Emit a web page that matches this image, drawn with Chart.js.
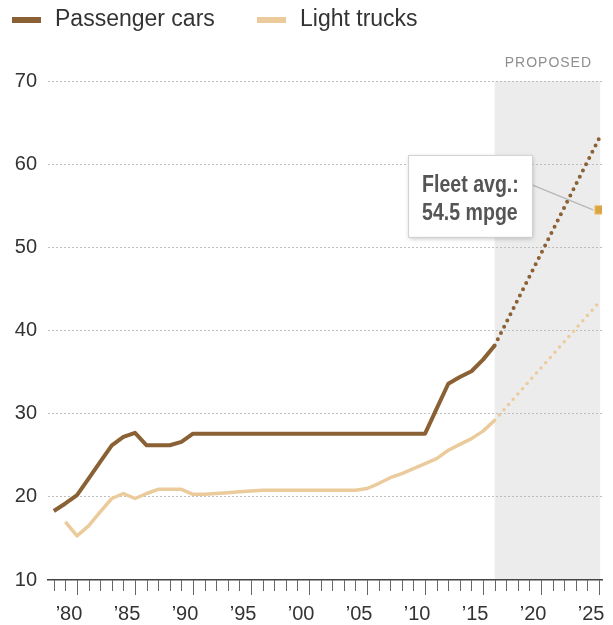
<!DOCTYPE html>
<html>
<head>
<meta charset="utf-8">
<script src="https://cdn.jsdelivr.net/npm/chart.js@4.4.1/dist/chart.umd.min.js"></script>
<style>
  html, body { margin: 0; padding: 0; background: #fff; }
  #wrap { width: 613px; height: 625px; }
</style>
</head>
<body>
<div id="wrap"><canvas id="chart" width="613" height="625"></canvas></div>
<script>
// fuel economy standards, mpg
const years = [1978, 1979, 1980, 1981, 1982, 1983, 1984, 1985, 1986, 1987, 1988, 1989, 1990,
  1991, 1992, 1993, 1994, 1995, 1996, 1997, 1998, 1999, 2000, 2001, 2002, 2003, 2004, 2005,
  2006, 2007, 2008, 2009, 2010, 2011, 2012, 2013, 2014, 2015, 2016];

const passengerCars = [18.3, 19.2, 20.2, 22.2, 24.2, 26.2, 27.2, 27.7, 26.2, 26.2, 26.2, 26.6, 27.6,
  27.6, 27.6, 27.6, 27.6, 27.6, 27.6, 27.6, 27.6, 27.6, 27.6, 27.6, 27.6, 27.6, 27.6, 27.6,
  27.6, 27.6, 27.6, 27.6, 27.6, 30.6, 33.6, 34.4, 35.1, 36.5, 38.2];

const lightTrucks = [null, 17.0, 15.3, 16.5, 18.2, 19.8, 20.4, 19.8, 20.4, 20.9, 20.9, 20.9, 20.3,
  20.3, 20.4, 20.5, 20.6, 20.7, 20.8, 20.8, 20.8, 20.8, 20.8, 20.8, 20.8, 20.8, 20.8, 21.0,
  21.6, 22.3, 22.8, 23.4, 24.0, 24.6, 25.6, 26.3, 27.0, 27.9, 29.2];

// proposed standards (dotted)
const proposedYears = [2016, 2025];
const carsProposed = [38.2, 63.1];
const trucksProposed = [29.2, 43.4];

const fleetAvgYear = 2025;
const fleetAvg = 54.5;

const yTicks = [10, 20, 30, 40, 50, 60, 70];
const seriesNames = ['Passenger cars', 'Light trucks'];

const CARS = '#8a6134';
const TRUCKS = '#ebcb9c';
const FLEET = '#d9a443';
const TEXT = '#333333';
const SANS = '"Liberation Sans", Arial, sans-serif';

const toPoints = (xs, ys) => xs.map((x, i) => ({ x: x, y: ys[i] }));

// shaded "proposed" area + header, drawn before the grid
const proposedShade = {
  id: 'proposedShade',
  beforeDraw(chart) {
    const { ctx, chartArea: a, scales: { x } } = chart;
    const x0 = x.getPixelForValue(proposedYears[0]);
    const x1 = x.getPixelForValue(fleetAvgYear) + 1;
    ctx.save();
    ctx.fillStyle = '#ececec';
    ctx.fillRect(x0, a.top, x1 - x0, a.bottom - a.top);
    ctx.fillStyle = '#8f8f8f';
    ctx.font = '14px ' + SANS;
    ctx.textAlign = 'center';
    ctx.textBaseline = 'alphabetic';
    if ('letterSpacing' in ctx) ctx.letterSpacing = '1px';
    ctx.fillText('PROPOSED', (x0 + x1) / 2 + 1, a.top - 14);
    ctx.restore();
  }
};

// minor/major tick marks under the x axis
const yearTicks = {
  id: 'yearTicks',
  afterDraw(chart) {
    const { ctx, chartArea: a, scales: { x } } = chart;
    ctx.save();
    ctx.strokeStyle = '#666';
    ctx.lineWidth = 1;
    x.ticks.forEach(t => {
      const px = Math.round(x.getPixelForValue(t.value)) + 0.5;
      const len = t.value % 5 === 0 ? 15 : 11;
      ctx.beginPath();
      ctx.moveTo(px, a.bottom);
      ctx.lineTo(px, a.bottom + len);
      ctx.stroke();
    });
    ctx.restore();
  }
};

// legend, callout box
const extras = {
  id: 'extras',
  afterDatasetsDraw(chart) {
    const { ctx, scales: { x, y } } = chart;
    const mx = x.getPixelForValue(fleetAvgYear);
    const my = y.getPixelForValue(fleetAvg);
    const bw = 124, bh = 82;
    const bx = mx - 191, by = my - 55;

    ctx.save();
    ctx.strokeStyle = '#b8b8b8';
    ctx.lineWidth = 1.5;
    ctx.beginPath();
    ctx.moveTo(bx + bw, by + 30);
    ctx.lineTo(mx - 6, my);
    ctx.stroke();

    ctx.shadowColor = 'rgba(0,0,0,0.25)';
    ctx.shadowBlur = 5;
    ctx.shadowOffsetX = 1;
    ctx.shadowOffsetY = 2;
    ctx.fillStyle = '#fff';
    ctx.fillRect(bx, by, bw, bh);
    ctx.shadowColor = 'transparent';
    ctx.strokeStyle = '#d0d0d0';
    ctx.lineWidth = 1;
    ctx.strokeRect(bx + 0.5, by + 0.5, bw, bh);

    // condensed bold text
    ctx.fillStyle = '#555';
    ctx.font = 'bold 23px ' + SANS;
    ctx.textAlign = 'left';
    ctx.textBaseline = 'alphabetic';
    ctx.translate(bx + 14, by);
    ctx.scale(0.85, 1);
    ctx.fillText('Fleet avg.:', 0, 37);
    ctx.fillText('54.5 mpge', 0, 65);
    ctx.restore();
  },
  afterDraw(chart) {
    const { ctx } = chart;
    const colors = [CARS, TRUCKS];
    const lx = [12, 257];
    ctx.save();
    ctx.font = '23px ' + SANS;
    ctx.textBaseline = 'middle';
    ctx.textAlign = 'left';
    seriesNames.forEach((name, i) => {
      ctx.fillStyle = colors[i];
      ctx.fillRect(lx[i], 17, 29, 6);
      ctx.fillStyle = TEXT;
      ctx.fillText(name, lx[i] + 43, 20);
    });
    ctx.restore();
  }
};

new Chart(document.getElementById('chart'), {
  type: 'line',
  data: {
    datasets: [
      {
        label: seriesNames[0],
        data: toPoints(years, passengerCars),
        borderColor: CARS,
        borderWidth: 4,
        pointRadius: 0,
        tension: 0,
        borderJoinStyle: 'round'
      },
      {
        label: seriesNames[1],
        data: toPoints(years, lightTrucks),
        borderColor: TRUCKS,
        borderWidth: 3.5,
        pointRadius: 0,
        tension: 0,
        borderJoinStyle: 'round'
      },
      {
        label: 'Passenger cars (proposed)',
        data: toPoints(proposedYears, carsProposed),
        borderColor: CARS,
        borderWidth: 4,
        borderDash: [0, 7],
        borderCapStyle: 'round',
        pointRadius: 0
      },
      {
        label: 'Light trucks (proposed)',
        data: toPoints(proposedYears, trucksProposed),
        borderColor: TRUCKS,
        borderWidth: 3.5,
        borderDash: [0, 7],
        borderCapStyle: 'round',
        pointRadius: 0
      },
      {
        label: 'Fleet avg.',
        data: [{ x: fleetAvgYear, y: fleetAvg }],
        showLine: false,
        pointStyle: 'rect',
        pointRadius: 6,
        backgroundColor: FLEET,
        borderColor: '#f0c67a',
        borderWidth: 1
      }
    ]
  },
  options: {
    responsive: false,
    animation: false,
    devicePixelRatio: 1,
    layout: { padding: { top: 81, right: 11, left: 0, bottom: 0 } },
    plugins: {
      legend: { display: false },
      tooltip: { enabled: false }
    },
    scales: {
      x: {
        type: 'linear',
        min: 1977.5,
        max: 2025.25,
        afterBuildTicks(scale) {
          const ticks = [];
          for (let yr = 1978; yr <= 2025; yr++) ticks.push({ value: yr });
          scale.ticks = ticks;
        },
        afterFit(scale) {
          scale.height = 45;
          scale.paddingLeft = 0;
          scale.paddingRight = 0;
        },
        grid: { display: false },
        border: { display: true, color: '#444', width: 1.5 },
        ticks: {
          autoSkip: false,
          maxRotation: 0,
          padding: 14,
          labelOffset: -8,
          color: TEXT,
          font: { family: SANS, size: 20 },
          callback: v => (v % 5 === 0 ? '\u2019' + String(v).slice(2) : '')
        }
      },
      y: {
        min: 10,
        max: 70,
        afterBuildTicks(scale) { scale.ticks = yTicks.map(v => ({ value: v })); },
        afterFit(scale) {
          scale.width = 48;
          scale.paddingTop = 0;
          scale.paddingBottom = 0;
        },
        border: { display: false, dash: [2, 2] },
        grid: {
          drawTicks: false,
          color: ctx => (ctx.tick && ctx.tick.value === 10 ? 'rgba(0,0,0,0)' : '#bdbdbd'),
          lineWidth: 1
        },
        ticks: {
          padding: 11,
          color: TEXT,
          font: { family: SANS, size: 20 }
        }
      }
    }
  },
  plugins: [proposedShade, yearTicks, extras]
});
</script>
</body>
</html>
